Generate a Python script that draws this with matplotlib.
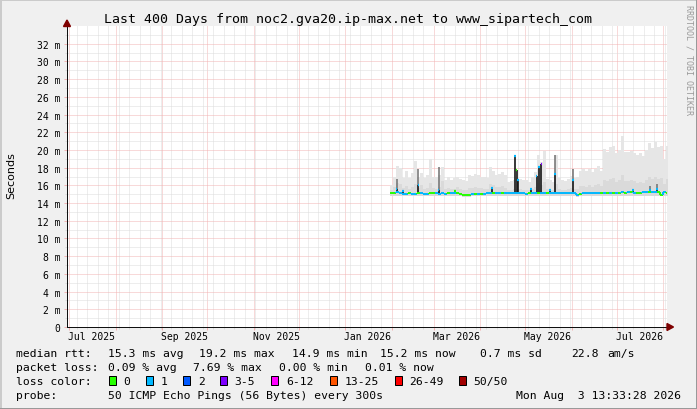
import matplotlib
matplotlib.use("Agg")
import matplotlib.pyplot as plt
import numpy as np
from datetime import datetime, timedelta
from matplotlib.patches import Rectangle, Polygon
from matplotlib.collections import LineCollection

# ---------------- data ----------------
TITLE = "Last 400 Days from noc2.gva20.ip-max.net to www_sipartech_com"
END_TIME = datetime(2026, 8, 3, 13, 33, 28)
SPAN_DAYS = 400

Y_TICKS = [0, 2, 4, 6, 8, 10, 12, 14, 16, 18, 20, 22, 24, 26, 28, 30, 32]
Y_TICK_LABELS = ["0", "2 m", "4 m", "6 m", "8 m", "10 m", "12 m", "14 m", "16 m",
                 "18 m", "20 m", "22 m", "24 m", "26 m", "28 m", "30 m", "32 m"]
X_LABELS = ["Jul 2025", "Sep 2025", "Nov 2025", "Jan 2026", "Mar 2026", "May 2026", "Jul 2026"]
X_LABEL_MONTHS = [(2025, 7), (2025, 9), (2025, 11), (2026, 1), (2026, 3), (2026, 5), (2026, 7)]

# samples: first sample day (days since graph start) and sample spacing in days
SAMPLE_START_DAY = 215
SAMPLE_STEP_DAYS = 2

median_ms = [
    15.15, 15.10, 15.20, 15.10, 15.05, 15.05, 15.10, 15.05, 15.05, 15.10,
    15.10, 15.05, 15.05, 15.10, 15.10, 15.10, 15.05, 15.10, 15.05, 15.10,
    15.10, 15.10, 15.15, 15.05, 14.90, 14.90, 14.95, 15.00, 15.00, 15.05,
    15.05, 15.05, 15.10, 15.10, 15.10, 15.10, 15.10, 15.10, 15.10, 15.10,
    15.10, 15.15, 15.10, 15.10, 15.10, 15.05, 15.10, 15.10, 15.10, 15.10,
    15.10, 15.10, 15.10, 15.15, 15.10, 15.10, 15.10, 15.10, 15.10, 15.10,
    15.10, 15.10, 14.90, 15.00, 15.10, 15.10, 15.10, 15.15, 15.10, 15.10,
    15.10, 15.15, 15.15, 15.15, 15.15, 15.15, 15.15, 15.20, 15.15, 15.20,
    15.20, 15.15, 15.15, 15.15, 15.20, 15.20, 15.20, 15.20, 15.25, 15.20,
    14.95, 15.20, 15.15]

loss_level = [
    0, 0, 1, 1, 1, 1, 0, 1, 1, 0,
    1, 1, 1, 0, 0, 1, 1, 1, 1, 0,
    1, 1, 0, 0, 0, 0, 0, 1, 0, 1,
    0, 1, 1, 1, 0, 1, 1, 0, 1, 1,
    1, 1, 1, 1, 1, 1, 0, 1, 1, 0,
    1, 1, 0, 1, 1, 1, 1, 1, 1, 1,
    1, 1, 1, 0, 1, 1, 1, 1, 1, 1,
    0, 1, 0, 1, 0, 1, 0, 1, 0, 1,
    0, 1, 0, 0, 1, 1, 0, 1, 1, 0,
    0, 1, 0]

smoke_top_ms = [
    16.0, 17.0, 18.2, 18.0, 16.8, 17.6, 16.8, 17.4, 18.7, 17.0,
    17.4, 16.8, 17.2, 19.0, 17.0, 16.9, 17.2, 18.1, 16.6, 16.9,
    16.6, 16.8, 17.0, 16.7, 16.6, 16.5, 17.2, 17.1, 17.3, 17.2,
    17.0, 16.9, 16.8, 18.1, 17.6, 17.2, 17.3, 17.5, 17.2, 16.4,
    16.5, 16.6, 16.8, 16.7, 16.6, 16.6, 16.4, 16.9, 17.5, 19.4,
    18.6, 19.9, 16.7, 16.6, 16.4, 19.4, 16.8, 16.6, 16.5, 16.7,
    17.1, 16.8, 16.9, 17.6, 17.8, 17.6, 17.9, 17.5, 17.9, 18.2,
    17.6, 20.1, 19.8, 20.3, 20.5, 19.6, 20.0, 21.6, 19.8, 19.8,
    19.9, 19.7, 19.4, 19.6, 19.3, 20.0, 20.8, 20.2, 20.9, 20.3,
    20.5, 19.0, 20.4]

smoke_mid_ms = [
    15.5, 15.8, 16.3, 16.2, 15.7, 15.9, 15.6, 15.8, 16.2, 15.7,
    16.0, 15.6, 15.7, 16.3, 15.7, 15.6, 15.8, 16.5, 15.6, 15.7,
    15.6, 15.6, 15.8, 15.6, 15.5, 15.5, 15.7, 15.7, 15.8, 15.7,
    15.7, 15.6, 15.6, 16.2, 16.0, 15.8, 15.8, 15.9, 15.7, 15.5,
    15.5, 15.6, 15.6, 15.6, 15.5, 15.5, 15.5, 15.6, 15.8, 16.3,
    16.0, 16.4, 15.6, 15.5, 15.5, 16.2, 15.6, 15.5, 15.5, 15.6,
    15.7, 15.6, 15.6, 15.9, 15.9, 15.8, 16.0, 15.8, 16.0, 16.1,
    15.9, 16.6, 16.5, 16.7, 16.8, 16.4, 16.6, 17.2, 16.5, 16.5,
    16.6, 16.5, 16.3, 16.4, 16.3, 16.6, 16.9, 16.7, 17.0, 16.7,
    16.8, 16.2, 16.7]

smoke_low_ms = [
    14.80, 14.80, 14.80, 14.80, 14.80, 14.80, 14.80, 14.80, 14.80, 14.80,
    14.80, 14.80, 14.80, 14.80, 14.80, 14.80, 14.80, 14.80, 14.80, 14.80,
    14.80, 14.80, 14.80, 14.80, 14.70, 14.70, 14.70, 14.80, 14.80, 14.80,
    14.80, 14.80, 14.80, 14.80, 14.80, 14.80, 14.80, 14.80, 14.80, 14.80,
    14.80, 14.80, 14.80, 14.80, 14.80, 14.80, 14.80, 14.80, 14.80, 14.80,
    14.80, 14.80, 14.80, 14.80, 14.80, 14.80, 14.80, 14.80, 14.80, 14.80,
    14.80, 14.80, 14.70, 14.80, 14.80, 14.80, 14.80, 14.80, 14.80, 14.80,
    14.85, 14.85, 14.85, 14.85, 14.85, 14.85, 14.85, 14.85, 14.85, 14.85,
    14.85, 14.85, 14.85, 14.85, 14.85, 14.85, 14.85, 14.85, 14.85, 14.85,
    14.75, 14.85, 14.85]

# short median excursions (day since graph start)
spike_day = [219.7, 224.0, 234.3, 247.7, 258.7, 283.3, 298.7, 299.7, 300.7, 309.3,
             313.0, 314.7, 316.3, 322.0, 325.3, 337.3, 377.3, 388.7, 393.3]
spike_top_ms = [15.6, 15.4, 16.0, 15.5, 15.4, 15.7, 19.3, 17.7, 16.6, 15.6,
                17.1, 18.1, 18.4, 15.5, 17.3, 16.6, 15.5, 15.5, 15.6]
spike_smoke_ms = [16.7, 15.4, 17.9, 18.1, 15.4, 15.7, 19.3, 17.7, 16.6, 15.6,
                  17.1, 18.1, 18.4, 15.5, 19.4, 17.9, 15.5, 15.9, 16.2]
spike_loss = [1, 1, 1, 1, 0, 1, 1, 0, 1, 1,
              1, 1, 3, 1, 1, 1, 1, 1, 1]

LOSS_LABELS = ["0", "1", "2", "3-5", "6-12", "13-25", "26-49", "50/50"]
LOSS_COLORS = ["#26ff00", "#00b8ff", "#0059ff", "#7e00ff",
               "#ff00ff", "#ff5500", "#ff0000", "#a10000"]

RTT_STAT_VALUES = [15.3, 19.2, 14.9, 15.2]
RTT_STAT_NAMES = ["avg", "max", "min", "now"]
RTT_SD = 0.7
RTT_AMS = 22.8
LOSS_STAT_VALUES = [0.09, 7.69, 0.00, 0.01]
LOSS_STAT_NAMES = ["avg", "max", "min", "now"]
PROBE_TEXT = "50 ICMP Echo Pings (56 Bytes) every 300s"
STAMP_TEXT = "Mon Aug  3 13:33:28 2026"

# ---------------- drawing ----------------
W, H = 697, 410
DPI = 100
MONO = "DejaVu Sans Mono"
BACK = "#f0f0f0"

fig = plt.figure(figsize=(W / DPI, H / DPI), dpi=DPI, facecolor=BACK)


def fx(px):
    return px / W


def fy(py):
    return 1 - py / H


# plot area: x 67..667, y 27..328 (pixels)
PL, PR, PT, PB = 67, 667, 27, 328
ax = fig.add_axes([fx(PL), fy(PB), fx(PR - PL), (PB - PT) / H])
ax.set_facecolor("white")
ax.set_xlim(0, SPAN_DAYS)
ax.set_ylim(0, 34)

start = END_TIME - timedelta(days=SPAN_DAYS)


def day_of(dt):
    return (dt - start).total_seconds() / 86400.0


# month starts (major) and Sundays (minor)
month_starts = []
y, m = start.year, start.month
while True:
    m += 1
    if m > 12:
        m, y = 1, y + 1
    d = datetime(y, m, 1)
    if d > END_TIME:
        break
    month_starts.append(day_of(d))
sundays = []
d0 = datetime(start.year, start.month, start.day) + timedelta(days=1)
while d0 < END_TIME:
    if d0.weekday() == 6:
        sundays.append(day_of(d0))
    d0 += timedelta(days=1)

GRID_MINOR = "#dcdcdc"
GRID_MAJOR = "#f2b4b4"
dots = (0, (1, 1))
ax.set_xticks(month_starts)
ax.set_xticks(sundays, minor=True)
ax.set_xticklabels([])
ax.set_yticks(Y_TICKS)
ax.set_yticks([v for v in range(1, 34) if v % 2 == 1], minor=True)
ax.set_yticklabels(Y_TICK_LABELS, fontfamily=MONO, fontsize=7)
ax.grid(which="minor", color=GRID_MINOR, linestyle=dots, linewidth=0.72, snap=True)
ax.grid(which="major", color=GRID_MAJOR, linestyle=dots, linewidth=0.72, snap=True)
ax.set_axisbelow(True)
ax.tick_params(axis="both", which="major", length=2.3, width=0.72, color=GRID_MAJOR, pad=2.5)
ax.tick_params(axis="both", which="minor", length=1.5, width=0.72, color=GRID_MINOR)
for s in ("top", "right"):
    ax.spines[s].set_visible(False)
for s in ("left", "bottom"):
    ax.spines[s].set_color("#101010")
    ax.spines[s].set_linewidth(0.72)
    ax.spines[s].set_zorder(5)

# smoke
n = len(median_ms)
days = SAMPLE_START_DAY + SAMPLE_STEP_DAYS * np.arange(n)
edges = np.append(days, days[-1] + SAMPLE_STEP_DAYS)
ext = lambda a: np.append(np.asarray(a, float), a[-1])
ax.fill_between(edges, ext(smoke_low_ms), ext(smoke_top_ms), step="post",
                color="#e6e6e6", linewidth=0, zorder=2)
ax.fill_between(edges, ext(smoke_low_ms), ext(smoke_mid_ms), step="post",
                color="#dadada", linewidth=0, zorder=2.1)

# spikes
for sd, top, stop, lv in zip(spike_day, spike_top_ms, spike_smoke_ms, spike_loss):
    idx = int((sd - SAMPLE_START_DAY) // SAMPLE_STEP_DAYS)
    base = median_ms[idx]
    if stop > top:
        ax.vlines(sd, top, stop, color="#707070", linewidth=1.1, zorder=3)
    ax.vlines(sd, base, top, color="#151515", linewidth=1.2, zorder=3.2)

# median line coloured by loss
segs, cols = [], []
for i in range(n):
    if i > 0:
        segs.append([(days[i], median_ms[i - 1]), (days[i], median_ms[i])])
        cols.append(LOSS_COLORS[loss_level[i]])
    segs.append([(days[i], median_ms[i]), (days[i] + SAMPLE_STEP_DAYS, median_ms[i])])
    cols.append(LOSS_COLORS[loss_level[i]])
ax.add_collection(LineCollection(segs, colors=cols, linewidths=1.4, zorder=4,
                                 capstyle="butt"))
for sd, top, lv in zip(spike_day, spike_top_ms, spike_loss):
    ax.hlines(top, sd - 0.6, sd + 0.6, color=LOSS_COLORS[lv], linewidth=1.6, zorder=4.2)

# x labels (mid month)
for lab, (yy, mm) in zip(X_LABELS, X_LABEL_MONTHS):
    dday = day_of(datetime(yy, mm, 16))
    xp = PL + dday / SPAN_DAYS * (PR - PL)
    fig.text(fx(xp), fy(337.5), lab, ha="center", va="center",
             fontfamily=MONO, fontsize=7)

# arrows
ARROW = "#7f0000"
fig.patches.append(Polygon([(fx(63.5), fy(27.5)), (fx(70.5), fy(27.5)), (fx(67), fy(21))],
                           closed=True, color=ARROW, transform=fig.transFigure, zorder=10))
fig.patches.append(Polygon([(fx(667), fy(324.5)), (fx(667), fy(331.5)), (fx(673.5), fy(328))],
                           closed=True, color=ARROW, transform=fig.transFigure, zorder=10))

# frame
fig.add_artist(plt.Line2D([0, 1], [fy(0.5), fy(0.5)], color="#cbcbcb", lw=1.44))
fig.add_artist(plt.Line2D([fx(0.5), fx(0.5)], [0, 1], color="#cbcbcb", lw=1.44))
fig.add_artist(plt.Line2D([0, 1], [fy(H - 0.5), fy(H - 0.5)], color="#999999", lw=1.44))
fig.add_artist(plt.Line2D([fx(W - 0.5), fx(W - 0.5)], [0, 1], color="#999999", lw=1.44))

# title, y label, watermark
fig.text(fx(348), fy(19.5), TITLE, ha="center", va="center", fontfamily=MONO, fontsize=9.5)
fig.text(fx(11.5), fy(176), "Seconds", rotation=90, ha="center", va="center",
         fontfamily="DejaVu Sans", fontsize=8)
fig.text(fx(688.5), fy(5), "RRDTOOL / TOBI OETIKER", rotation=270, ha="center", va="top",
         fontfamily=MONO, fontsize=6, color="#9a9a9a")

# legend rows
LFS = 8.2
def ltxt(xp, yp, s, ha="left"):
    fig.text(fx(xp), fy(yp), s, ha=ha, va="center", fontfamily=MONO, fontsize=LFS)

R1, R2, R3, R4 = 354, 368.3, 381.7, 396.5
ltxt(16.4, R1, "median rtt:")
for xp, v, nm in zip([107.6, 198.7, 292, 380], RTT_STAT_VALUES, RTT_STAT_NAMES):
    ltxt(xp, R1, f"{v:.1f} ms {nm}")
ltxt(480, R1, f"{RTT_SD:.1f} ms sd")
ltxt(571, R1, f"{RTT_AMS:.1f}")
ltxt(607.6, R1, "am/s")

ltxt(16.4, R2, "packet loss:")
for xp, v, nm in zip([107.6, 193, 279, 365], LOSS_STAT_VALUES, LOSS_STAT_NAMES):
    ltxt(xp, R2, f"{v:.2f} % {nm}")

ltxt(16.4, R3, "loss color:")
box_x = [108.5, 146, 183, 219.5, 271, 329.5, 394.5, 458.5]
for bx, lab, col in zip(box_x, LOSS_LABELS, LOSS_COLORS):
    fig.patches.append(Rectangle((fx(bx), fy(R3 + 4.5)), 7 / W, 9 / H,
                                 transform=fig.transFigure, facecolor=col,
                                 edgecolor="black", linewidth=0.72, zorder=10))
    ltxt(bx + 15, R3, lab)

ltxt(16.4, R4, "probe:")
ltxt(107.6, R4, PROBE_TEXT)
ltxt(681, R4, STAMP_TEXT, ha="right")

fig.savefig("out.png", dpi=DPI, facecolor=BACK)
